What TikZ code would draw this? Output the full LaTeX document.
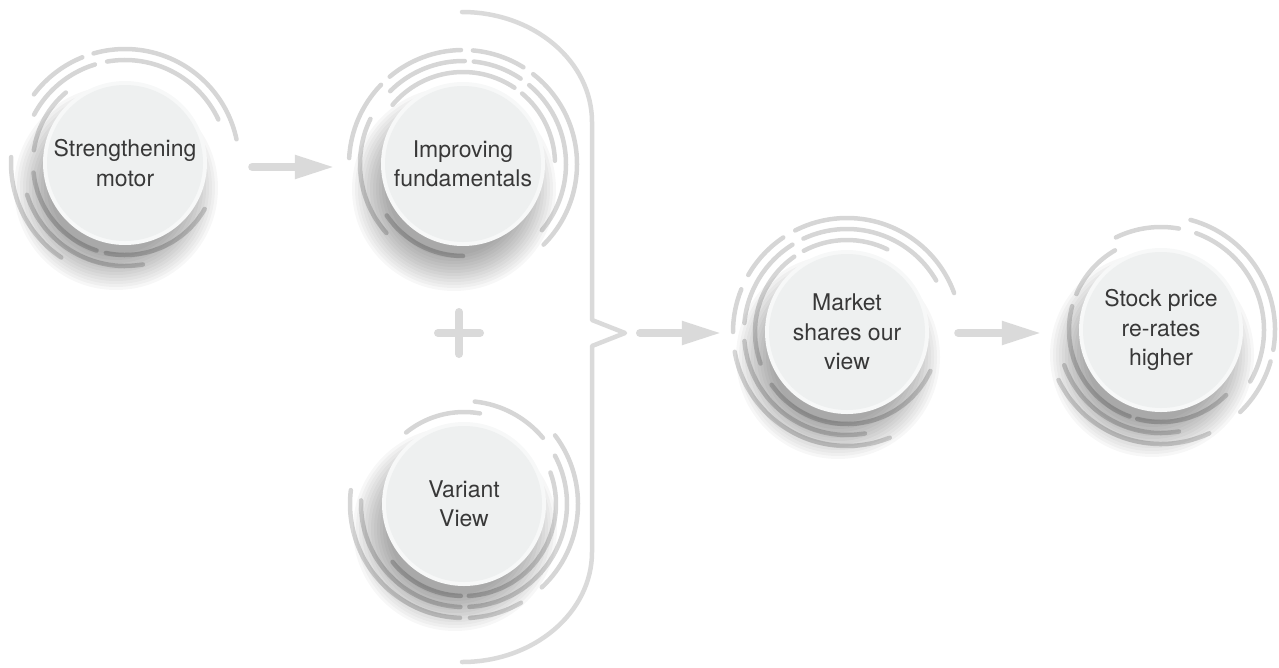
\documentclass[tikz,border=0pt]{standalone}
\usepackage{fontspec}
\setmainfont{TeX Gyre Heros}
\usetikzlibrary{arrows.meta}
\definecolor{ringgray}{HTML}{D6D6D6}
\definecolor{linegray}{HTML}{DADADA}
\definecolor{facegray}{HTML}{EEF0F0}
\definecolor{rimgray}{HTML}{F7F8F8}
\definecolor{textgray}{HTML}{383838}

% broken concentric rings: list of radius/start/end around a centre
\newcommand\dialrings[2]{%
  \foreach \rr/\aa/\bb in {#2} {
    \draw[ring] ([shift={(\aa:\rr)}]#1) arc[start angle=\aa, end angle=\bb, radius=\rr];
  }}
% soft drop shadow towards the lower left
\newcommand\dialshadow[1]{%
  \foreach \k in {0,...,12} {
    \fill[black, opacity=0.033] ([shift={(-9,-25)}]#1) circle[radius={66+3*\k}];
  }}

\begin{document}
\begin{tikzpicture}[x=1pt, y=1pt,
  ring/.style={draw=ringgray, line width=4.5pt, line cap=round},
  dial/.style={circle, minimum size=164pt, inner sep=0pt, fill=rimgray,
    align=center, text=textgray, font=\fontsize{23}{29.5}\selectfont,
    path picture={\fill[facegray] (path picture bounding box.center) circle[radius=78];}},
  flow/.style={draw=linegray, line width=8pt, line cap=round,
    -{Triangle[length=40pt, width=22pt]}},
  bracket/.style={draw=linegray, line width=4.5pt, line cap=round, line join=round},
  plusbar/.style={draw=linegray, line width=8pt, line cap=round},
]
\useasboundingbox (0,0) rectangle (1279,-667);

\coordinate (c1) at (125,-163);
\coordinate (c2) at (463,-164);
\coordinate (c3) at (464,-504);
\coordinate (c4) at (847,-332);
\coordinate (c5) at (1161,-330);

% rings
\dialrings{c1}{114/12/106, 114/112/143, 114/177/236,
               103/25/100, 103/107/152, 103/198/280,
               92/130/172, 92/186/252, 92/258/330}
\dialrings{c2}{114/-45/52, 114/58/85, 114/91/130, 114/136/177,
               103/-40/50, 103/56/84, 103/89/135, 103/154/222,
               92/2/50, 92/56/140, 92/214/270}
\dialrings{c3}{114/-47/37, 114/173/268, 114/273/300,
               103/-42/28, 103/40/84, 103/178/268, 103/273/318,
               92/-30/20, 92/80/129, 92/219/268, 92/273/330}
\dialrings{c4}{114/20/117, 114/124/150, 114/158/180, 114/190/292,
               103/30/115, 103/122/175, 103/185/280,
               92/64/118, 92/125/200, 92/215/335}
\dialrings{c5}{114/-46/-16, 114/-10/75, 114/206/295,
               103/-30/70, 103/80/116, 103/200/280,
               92/120/157, 92/165/250, 92/255/315}

% shadows
\dialshadow{c1}
\dialshadow{c2}
\dialshadow{c3}
\dialshadow{c4}
\dialshadow{c5}

% dials
\node[dial] (s1) at (c1) {Strengthening\\motor};
\node[dial] (s2) at (c2) {Improving\\fundamentals};
\node[dial] (s3) at (c3) {Variant\\View};
\node[dial] (s4) at (c4) {Market\\shares our\\view};
\node[dial] (s5) at (c5) {Stock price\\re-rates\\higher};

% plus sign
\coordinate (plus) at (459,-333);
\draw[plusbar] ([xshift=-21]plus) -- ([xshift=21]plus);
\draw[plusbar] ([yshift=-21]plus) -- ([yshift=21]plus);

% bracket
\coordinate (bt) at (625,-333);
\draw[bracket] (462,-12) arc[start angle=90, end angle=0, x radius=130, y radius=110]
  -- (592,-320) -- (bt) -- (592,-346) -- (592,-552)
  arc[start angle=0, end angle=-90, x radius=130, y radius=110];

% arrows
\draw[flow] ([shift={(45,-4)}]s1.east) -- ([shift={(-46,-3)}]s2.west);
\draw[flow] ([xshift=15]bt) -- ([shift={(-43,-1)}]s4.west);
\draw[flow] ([shift={(29,-1)}]s4.east) -- ([shift={(-37,-3)}]s5.west);
\end{tikzpicture}
\end{document}
